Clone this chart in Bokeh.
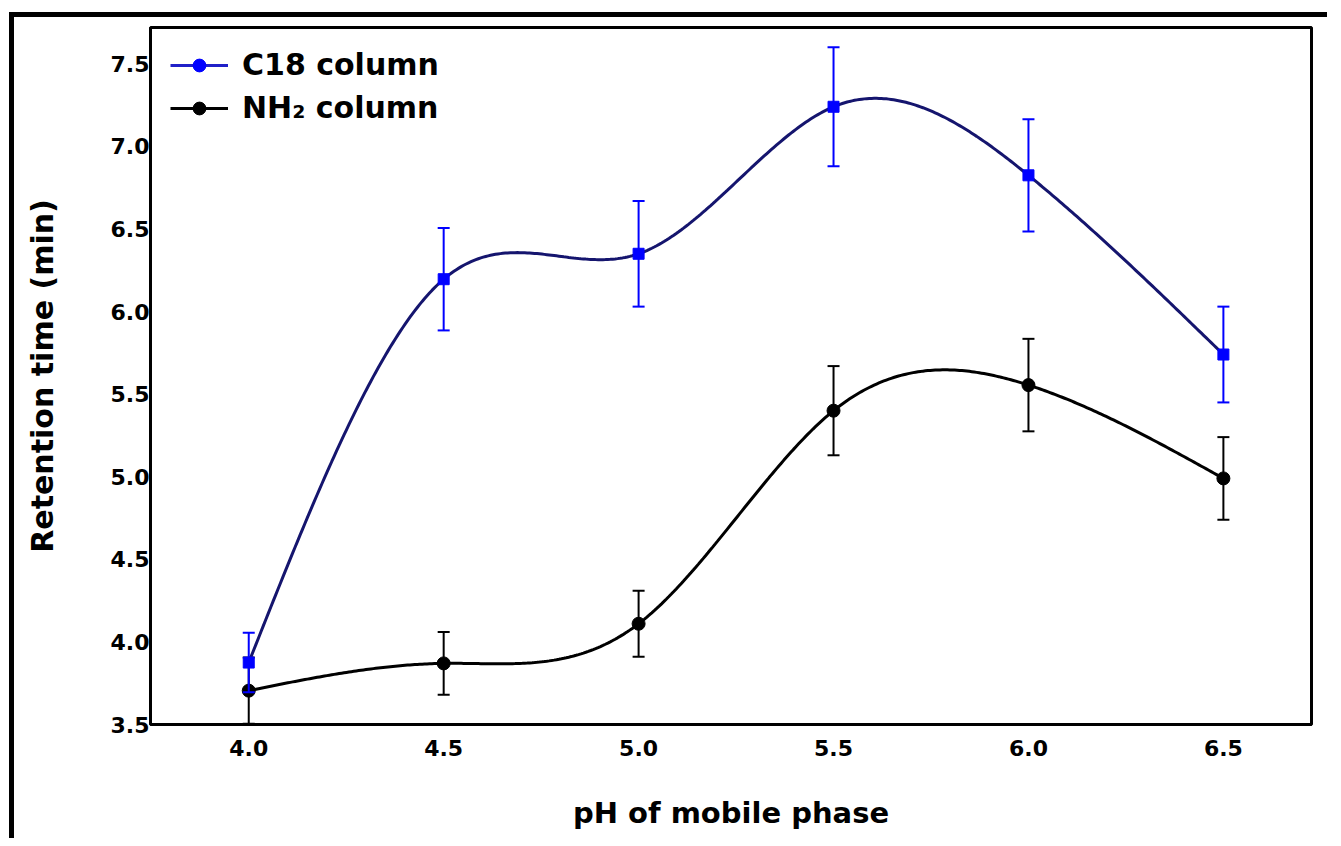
import numpy as np
from bokeh.plotting import figure
from bokeh.models import FixedTicker, Legend, LegendItem, ColumnDataSource, PrintfTickFormatter
from bokeh.embed import file_html
from bokeh.resources import INLINE

# ---- data ----
ph = [4.0, 4.5, 5.0, 5.5, 6.0, 6.5]
c18_rt = [3.875, 6.196, 6.35, 7.24, 6.825, 5.74]
c18_err = [0.18, 0.31, 0.32, 0.36, 0.34, 0.29]
nh2_rt = [3.705, 3.87, 4.11, 5.40, 5.555, 4.99]
nh2_err = [0.20, 0.19, 0.20, 0.27, 0.28, 0.25]
x_ticks = [4.0, 4.5, 5.0, 5.5, 6.0, 6.5]
y_ticks = [3.5, 4.0, 4.5, 5.0, 5.5, 6.0, 6.5, 7.0, 7.5]
series_names = ["C18 column", "NH\u2082 column"]
x_title = "pH of mobile phase"
y_title = "Retention time (min)"


def natural_spline(xs, ys, n=400):
    xs = np.asarray(xs, float)
    ys = np.asarray(ys, float)
    k = len(xs)
    h = np.diff(xs)
    A = np.zeros((k, k))
    b = np.zeros(k)
    A[0, 0] = 1.0
    A[-1, -1] = 1.0
    for i in range(1, k - 1):
        A[i, i - 1] = h[i - 1]
        A[i, i] = 2 * (h[i - 1] + h[i])
        A[i, i + 1] = h[i]
        b[i] = 6 * ((ys[i + 1] - ys[i]) / h[i] - (ys[i] - ys[i - 1]) / h[i - 1])
    M = np.linalg.solve(A, b)
    xx = np.linspace(xs[0], xs[-1], n)
    idx = np.clip(np.searchsorted(xs, xx) - 1, 0, k - 2)
    x0, x1 = xs[idx], xs[idx + 1]
    hh = x1 - x0
    a = (x1 - xx) / hh
    bb = (xx - x0) / hh
    yy = (a * ys[idx] + bb * ys[idx + 1]
          + ((a ** 3 - a) * M[idx] + (bb ** 3 - bb) * M[idx + 1]) * hh ** 2 / 6)
    return xx, yy


FONT = "DejaVu Sans"

p = figure(width=1318, height=826,
           x_range=(3.748, 6.726), y_range=(3.5, 7.72),
           output_backend="svg", toolbar_location=None,
           min_border_left=136, min_border_right=21,
           min_border_top=10, min_border_bottom=119,
           styles={"border-left": "5px solid black",
                   "border-top": "5px solid black",
                   "margin-left": "9px", "margin-top": "12px"})

p.xgrid.visible = False
p.ygrid.visible = False
p.outline_line_color = "black"
p.outline_line_width = 3
p.background_fill_color = "white"
p.border_fill_color = "white"

p.xaxis.ticker = FixedTicker(ticks=x_ticks)
p.yaxis.ticker = FixedTicker(ticks=y_ticks)
for ax in (p.xaxis, p.yaxis):
    ax.formatter = PrintfTickFormatter(format="%.1f")
    ax.axis_line_width = 3
    ax.axis_line_color = "black"
    ax.major_tick_out = 0
    ax.major_tick_in = 0
    ax.minor_tick_out = 0
    ax.minor_tick_in = 0
    ax.major_label_text_font = FONT
    ax.major_label_text_font_style = "bold"
    ax.major_label_text_font_size = "22px"
    ax.major_label_text_color = "black"
    ax.axis_label_text_font = FONT
    ax.axis_label_text_font_style = "bold"
    ax.axis_label_text_color = "black"
p.xaxis.major_label_standoff = 15
p.yaxis.major_label_standoff = 1
p.xaxis.axis_label = x_title
p.yaxis.axis_label = y_title
p.xaxis.axis_label_text_font_size = "29px"
p.yaxis.axis_label_text_font_size = "30px"
p.xaxis.axis_label_standoff = 37
p.yaxis.axis_label_standoff = 48

# ---- NH2 series ----
nx, ny = natural_spline(ph, nh2_rt)
p.line(nx, ny, line_color="black", line_width=3)
nsrc = ColumnDataSource(dict(x=ph, y=nh2_rt,
                             lo=[v - e for v, e in zip(nh2_rt, nh2_err)],
                             hi=[v + e for v, e in zip(nh2_rt, nh2_err)]))
p.segment(x0="x", y0="lo", x1="x", y1="hi", source=nsrc, line_color="black", line_width=2)
p.scatter(x="x", y="lo", source=nsrc, marker="dash", size=12, line_color="black", line_width=2)
p.scatter(x="x", y="hi", source=nsrc, marker="dash", size=12, line_color="black", line_width=2)
p.scatter(x="x", y="y", source=nsrc, marker="circle", size=13,
          fill_color="black", line_color="black")

# ---- C18 series ----
cx, cy = natural_spline(ph, c18_rt)
p.line(cx, cy, line_color="#15156e", line_width=3)
csrc = ColumnDataSource(dict(x=ph, y=c18_rt,
                             lo=[v - e for v, e in zip(c18_rt, c18_err)],
                             hi=[v + e for v, e in zip(c18_rt, c18_err)]))
p.segment(x0="x", y0="lo", x1="x", y1="hi", source=csrc, line_color="#0000ff", line_width=2)
p.scatter(x="x", y="lo", source=csrc, marker="dash", size=12, line_color="#0000ff", line_width=2)
p.scatter(x="x", y="hi", source=csrc, marker="dash", size=12, line_color="#0000ff", line_width=2)
p.scatter(x="x", y="y", source=csrc, marker="square", size=11,
          fill_color="#0000ff", line_color="#0000ff")

# ---- legend (proxy renderers, no visible data) ----
lc1 = p.line(x=[np.nan], y=[np.nan], line_color="#2020c8", line_width=3)
mc1 = p.scatter(x=[np.nan], y=[np.nan], marker="circle", size=9,
                fill_color="#0000ff", line_color="#0000ff")
lc2 = p.line(x=[np.nan], y=[np.nan], line_color="black", line_width=3)
mc2 = p.scatter(x=[np.nan], y=[np.nan], marker="circle", size=9,
                fill_color="black", line_color="black")

legend = Legend(items=[LegendItem(label=series_names[0], renderers=[lc1, mc1]),
                       LegendItem(label=series_names[1], renderers=[lc2, mc2])],
                location="top_left",
                border_line_color=None, background_fill_alpha=0,
                label_text_font=FONT, label_text_font_style="bold",
                label_text_font_size="30px", label_text_color="black",
                glyph_width=58, glyph_height=32, label_standoff=14,
                spacing=8, margin=20, padding=12)
p.add_layout(legend)

open("out.html", "w").write(file_html(p, INLINE))
